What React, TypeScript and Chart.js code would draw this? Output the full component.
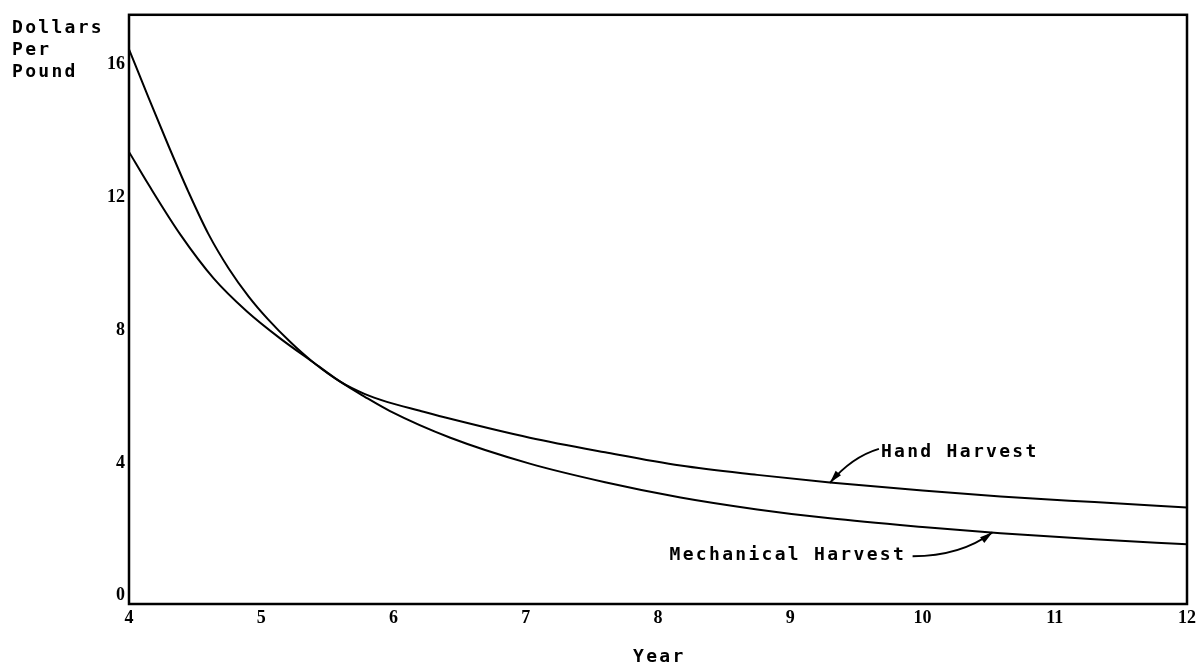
import React, { useEffect, useRef } from 'react';
import { Chart, registerables } from 'chart.js';

Chart.register(...registerables);

const HAND_YEARS = [4.0, 4.15, 4.3, 4.45, 4.6, 4.755, 4.905, 5.05, 5.22, 5.39, 5.6, 5.78, 5.95, 6.2, 6.43, 7.03, 7.6, 8.17, 8.75, 9.3, 10.0, 10.59, 11.3, 12];
const HAND_HARVEST = [16.46, 14.98, 13.54, 12.16, 10.9, 9.85, 9.01, 8.33, 7.64, 7.04, 6.44, 6.08, 5.84, 5.57, 5.33, 4.76, 4.32, 3.92, 3.64, 3.41, 3.17, 2.99, 2.82, 2.66];
const MECH_YEARS = [4.0, 4.15, 4.39, 4.64, 4.89, 5.14, 5.39, 5.6, 5.78, 5.97, 6.43, 7.03, 7.6, 8.17, 8.75, 9.3, 10.0, 10.59, 11.3, 12];
const MECHANICAL_HARVEST = [13.37, 12.37, 10.87, 9.56, 8.57, 7.76, 7.04, 6.44, 6.0, 5.57, 4.76, 3.98, 3.42, 2.96, 2.6, 2.33, 2.07, 1.88, 1.7, 1.55];
const X_TICKS = [4, 5, 6, 7, 8, 9, 10, 11, 12];
const Y_TICKS = [0, 4, 8, 12, 16];
const Y_TITLE = ['Dollars', 'Per', 'Pound'];
const X_TITLE = 'Year';
const HAND_LABEL = 'Hand Harvest';
const MECH_LABEL = 'Mechanical Harvest';

const TYPE_FONT = 'bold 18px "DejaVu Sans Mono", monospace';
const TYPE_SPACING = '2.3px';

function drawArrow(ctx: CanvasRenderingContext2D, tail: number[], ctrl: number[], tip: number[]) {
  ctx.beginPath();
  ctx.moveTo(tail[0], tail[1]);
  ctx.quadraticCurveTo(ctrl[0], ctrl[1], tip[0], tip[1]);
  ctx.lineWidth = 2;
  ctx.stroke();
  const ang = Math.atan2(tip[1] - ctrl[1], tip[0] - ctrl[0]);
  const len = 13;
  const half = 3.5;
  const bx = tip[0] - len * Math.cos(ang);
  const by = tip[1] - len * Math.sin(ang);
  ctx.beginPath();
  ctx.moveTo(tip[0], tip[1]);
  ctx.lineTo(bx + half * Math.sin(ang), by - half * Math.cos(ang));
  ctx.lineTo(bx - half * Math.sin(ang), by + half * Math.cos(ang));
  ctx.closePath();
  ctx.fill();
}

const decorPlugin = {
  id: 'decor',
  afterDraw(chart: any) {
    const { ctx, chartArea: a, scales } = chart;
    const x = scales.x;
    const y = scales.y;
    ctx.save();
    ctx.strokeStyle = '#000';
    ctx.fillStyle = '#000';
    ctx.lineWidth = 2.5;
    ctx.strokeRect(a.left, a.top, a.right - a.left, a.bottom - a.top);

    ctx.font = TYPE_FONT;
    (ctx as any).letterSpacing = TYPE_SPACING;
    ctx.textAlign = 'left';
    ctx.textBaseline = 'alphabetic';
    Y_TITLE.forEach((t, i) => ctx.fillText(t, 12, 33 + i * 22));
    ctx.fillText(X_TITLE, (a.left + a.right) / 2 - 25, 662);

    // Hand harvest annotation
    const hTip = [x.getPixelForValue(9.3), y.getPixelForValue(3.4)];
    const hTail = [hTip[0] + 49, hTip[1] - 34];
    ctx.fillText(HAND_LABEL, hTail[0] + 2, hTail[1] + 8);
    drawArrow(ctx, hTail, [hTip[0] + 22, hTip[1] - 26], hTip);

    // Mechanical harvest annotation
    const mTip = [x.getPixelForValue(10.53), y.getPixelForValue(1.91)];
    const mTail = [mTip[0] - 80, mTip[1] + 24];
    ctx.fillText(MECH_LABEL, mTail[0] - 243, mTail[1] + 4);
    drawArrow(ctx, mTail, [mTip[0] - 32, mTip[1] + 24], mTip);
    ctx.restore();
  },
};

export default function App() {
  const ref = useRef<HTMLCanvasElement>(null);

  useEffect(() => {
    if (!ref.current) return;
    const chart = new Chart(ref.current, {
      type: 'line',
      data: {
        datasets: [
          {
            label: HAND_LABEL,
            data: HAND_YEARS.map((yr, i) => ({ x: yr, y: HAND_HARVEST[i] })),
            borderColor: '#000',
            borderWidth: 2,
            pointRadius: 0,
            cubicInterpolationMode: 'monotone',
            fill: false,
          },
          {
            label: MECH_LABEL,
            data: MECH_YEARS.map((yr, i) => ({ x: yr, y: MECHANICAL_HARVEST[i] })),
            borderColor: '#000',
            borderWidth: 2,
            pointRadius: 0,
            cubicInterpolationMode: 'monotone',
            fill: false,
          },
        ],
      },
      options: {
        responsive: false,
        devicePixelRatio: 1,
        animation: false,
        layout: { padding: { top: 12, right: 13, left: 0, bottom: 0 } },
        plugins: { legend: { display: false }, tooltip: { enabled: false } },
        scales: {
          x: {
            type: 'linear',
            min: 4,
            max: 12,
            grid: { display: false, drawTicks: false },
            border: { display: false },
            afterBuildTicks: (s: any) => {
              s.ticks = X_TICKS.map((v) => ({ value: v }));
            },
            afterFit: (s: any) => {
              s.height = 63;
            },
            ticks: {
              autoSkip: false,
              maxRotation: 0,
              padding: 4,
              color: '#000',
              font: { family: '"Liberation Serif", serif', size: 18, weight: 'bold' },
            },
          },
          y: {
            type: 'linear',
            min: -0.25,
            max: 17.5,
            grid: { display: false, drawTicks: false },
            border: { display: false },
            afterBuildTicks: (s: any) => {
              s.ticks = Y_TICKS.map((v) => ({ value: v }));
            },
            afterFit: (s: any) => {
              s.width = 129;
            },
            ticks: {
              padding: 4,
              color: '#000',
              font: { family: '"Liberation Serif", serif', size: 18, weight: 'bold' },
            },
          },
        },
      },
      plugins: [decorPlugin],
    } as any);
    return () => chart.destroy();
  }, []);

  return (
    <div style={{ position: 'absolute', left: 0, top: 0, width: 1200, height: 667, background: '#fff' }}>
      <canvas ref={ref} width={1200} height={667} style={{ display: 'block' }} />
    </div>
  );
}
